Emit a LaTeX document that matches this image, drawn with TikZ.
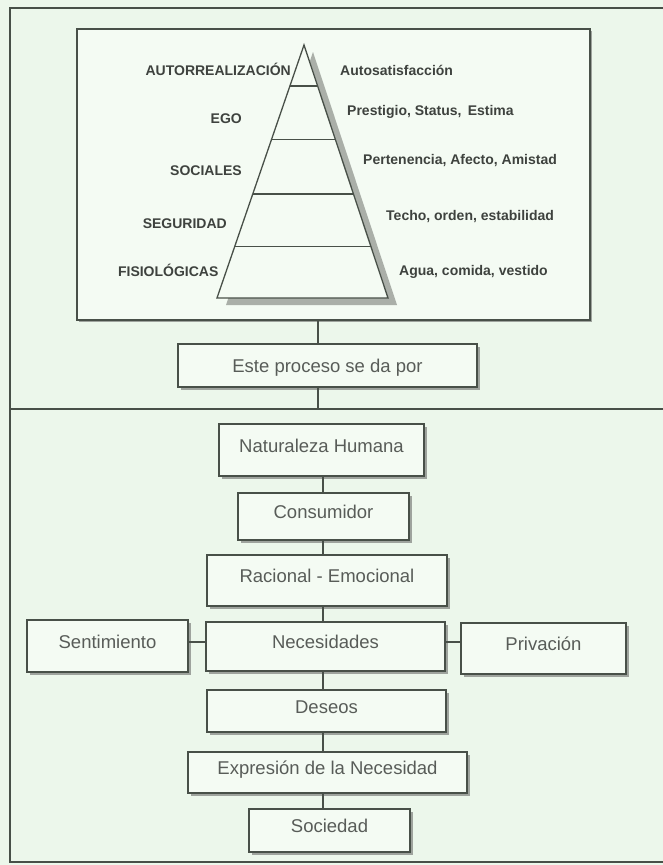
\documentclass[tikz,border=0pt]{standalone}
\usepackage{fontspec}
\setmainfont{Liberation Sans}
\usetikzlibrary{calc,shadows}

\definecolor{paper}{RGB}{236,247,235}
\definecolor{boxfill}{RGB}{244,251,243}
\definecolor{ink}{RGB}{72,80,72}
\definecolor{shade}{RGB}{158,163,157}
\definecolor{pyrshade}{RGB}{170,175,168}
\definecolor{labelc}{RGB}{62,66,62}
\definecolor{textc}{RGB}{88,92,88}

\tikzset{
  frame/.style={draw=ink, line width=1.2pt},
  link/.style={draw=ink, line width=1.1pt},
  flowbox/.style={draw=ink, line width=1.1pt, fill=boxfill, inner sep=0pt,
    font=\fontsize{18.5}{20}\selectfont, text=textc,
    text height=13pt, text depth=9pt,
    drop shadow={shadow xshift=3pt, shadow yshift=-3pt, fill=shade, opacity=1}},
  levelname/.style={anchor=east, inner sep=0pt,
    font=\bfseries\fontsize{14}{16}\selectfont, text=labelc,
    text height=10pt, text depth=0pt},
  levelnote/.style={levelname, anchor=west},
}

\begin{document}
\begin{tikzpicture}[x=1pt, y=-1pt]
  % page
  \fill[paper] (0,0) rectangle (663,865);
  \useasboundingbox (0,0) rectangle (663,865);

  % outer frame (open on the right) and the divider between the two halves
  \draw[frame] (670,8) -- (10,8) -- (10,862) -- (670,862);
  \coordinate (divL) at (10,409);
  \coordinate (divR) at (670,409);
  \draw[frame] (divL) -- (divR);

  % x positions of the vertical links
  \coordinate (upx) at (318,0);
  \coordinate (stackx) at (323,0);
  \coordinate (sidey) at (0,642);

  % ---------- Maslow pyramid panel ----------
  \node[draw=ink, line width=1.3pt, fill=boxfill, minimum width=513pt, minimum height=291pt,
        drop shadow={shadow xshift=2pt, shadow yshift=-2pt, fill=shade, opacity=1}]
        (pyrbox) at (333.5,174.5) {};

  \coordinate (apex) at (304,45);
  \coordinate (bl) at (217,298);
  \coordinate (br) at (388,298);

  \fill[pyrshade] ([shift={(9,7)}]apex) -- ([shift={(9,7)}]br) -- ([shift={(9,7)}]bl) -- cycle;
  \filldraw[fill=boxfill, draw=ink, line width=1.3pt] (apex) -- (br) -- (bl) -- cycle;
  \foreach \t in {0.162,0.375,0.589,0.798}
    \draw[ink, line width=1.2pt] ($(apex)!\t!(bl)$) -- ($(apex)!\t!(br)$);

  \node[levelname] (lv5) at (291,70.3) {AUTORREALIZACIÓN};
  \node[levelname] (lv4) at (242,118) {EGO};
  \node[levelname] (lv3) at (242,170) {SOCIALES};
  \node[levelname] (lv2) at (227,223.7) {SEGURIDAD};
  \node[levelname] (lv1) at (218.6,271.7) {FISIOLÓGICAS};

  \node[levelnote] (nt5) at (340,70.3) {Autosatisfacción};
  \node[levelnote] (nt4) at (347,110.5) {Prestigio, Status,\, Estima};
  \node[levelnote] (nt3) at (363,159.5) {Pertenencia, Afecto, Amistad};
  \node[levelnote] (nt2) at (386,215) {Techo, orden, estabilidad};
  \node[levelnote] (nt1) at (399,270) {Agua, comida, vestido};

  % ---------- flow of the process ----------
  \node[flowbox, minimum width=299pt, minimum height=43pt, text depth=0pt]
        (este) at (327.5,365.5) {Este proceso se da por};

  \node[flowbox, minimum width=205pt, minimum height=52pt] (nat)  at (321.5,450)   {Naturaleza Humana};
  \node[flowbox, minimum width=171pt, minimum height=47pt] (cons) at (323.5,516.5) {Consumidor};
  \node[flowbox, minimum width=240pt, minimum height=51pt] (rac)  at (327,580.5)   {Racional - Emocional};
  \node[flowbox, minimum width=239pt, minimum height=49pt] (nec)  at (325.5,646.5) {Necesidades};
  \node[flowbox, minimum width=161pt, minimum height=52pt] (sent) at (107.5,646)   {Sentimiento};
  \node[flowbox, minimum width=165pt, minimum height=51pt] (priv) at (543.5,648.5) {Privación};
  \node[flowbox, minimum width=239pt, minimum height=42pt] (des)  at (326.5,711)   {Deseos};
  \node[flowbox, minimum width=279pt, minimum height=41pt] (expr) at (327.5,772.5) {Expresión de la Necesidad};
  \node[flowbox, minimum width=161pt, minimum height=43pt] (soc)  at (329.5,830.5) {Sociedad};

  % links
  \draw[link] (pyrbox.south -| upx) -- (este.north -| upx);
  \draw[link] (este.south -| upx) -- (upx |- divL);

  \draw[link] (nat.south -| stackx)  -- (cons.north -| stackx);
  \draw[link] (cons.south -| stackx) -- (rac.north -| stackx);
  \draw[link] (rac.south -| stackx)  -- (nec.north -| stackx);
  \draw[link] (nec.south -| stackx)  -- (des.north -| stackx);
  \draw[link] (des.south -| stackx)  -- (expr.north -| stackx);
  \draw[link] (expr.south -| stackx) -- (soc.north -| stackx);

  \draw[link] (sent.east |- sidey) -- (nec.west |- sidey);
  \draw[link] (nec.east |- sidey)  -- (priv.west |- sidey);
\end{tikzpicture}
\end{document}
